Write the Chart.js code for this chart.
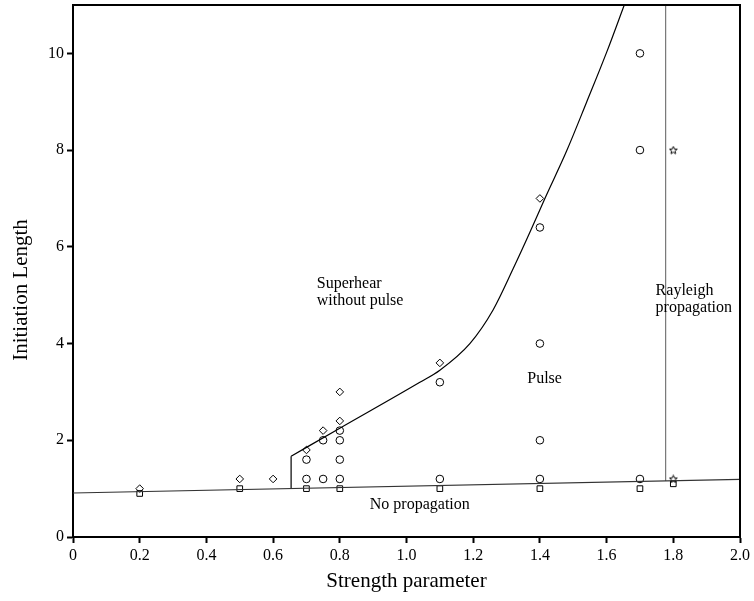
<!DOCTYPE html>
<html>
<head>
<meta charset="utf-8">
<script src="https://cdn.jsdelivr.net/npm/chart.js@4.4.1/dist/chart.umd.min.js"></script>
<style>
html,body{margin:0;padding:0;background:#fff;}
#wrap{width:754px;height:601px;}
</style>
</head>
<body>
<div id="wrap"><canvas id="c" width="754" height="601"></canvas></div>
<script>
// ---- data ----
const xTickValues = [0, 0.2, 0.4, 0.6, 0.8, 1.0, 1.2, 1.4, 1.6, 1.8, 2.0];
const xTickLabels = ['0', '0.2', '0.4', '0.6', '0.8', '1.0', '1.2', '1.4', '1.6', '1.8', '2.0'];
const yTickValues = [0, 2, 4, 6, 8, 10];
const yTickLabels = ['0', '2', '4', '6', '8', '10'];
const xTitle = 'Strength parameter';
const yTitle = 'Initiation Length';

// No propagation (squares)
const noPropX = [0.2, 0.5, 0.7, 0.8, 1.1, 1.4, 1.7, 1.8];
const noPropY = [0.9, 1.0, 1.0, 1.0, 1.0, 1.0, 1.0, 1.1];
// Superheat without pulse (diamonds)
const superX = [0.2, 0.5, 0.6, 0.7, 0.75, 0.8, 0.8, 1.1, 1.4];
const superY = [1.0, 1.2, 1.2, 1.8, 2.2, 2.4, 3.0, 3.6, 7.0];
// Pulse (circles)
const pulseX = [0.7, 0.7, 0.75, 0.75, 0.8, 0.8, 0.8, 0.8, 1.1, 1.1, 1.4, 1.4, 1.4, 1.4, 1.7, 1.7, 1.7];
const pulseY = [1.2, 1.6, 1.2, 2.0, 1.2, 1.6, 2.0, 2.2, 1.2, 3.2, 1.2, 2.0, 4.0, 6.4, 1.2, 8.0, 10.0];
// Rayleigh propagation (stars)
const rayX = [1.8, 1.8];
const rayY = [8.0, 1.2];

// Boundary lines
const baseLineX = [0, 2.0];
const baseLineY = [0.91, 1.19];
const stepX = [0.654, 0.654];
const stepY = [1.0, 1.67];
const curveX = [0.654, 0.8, 1.04, 1.1, 1.19, 1.26, 1.32, 1.37, 1.415, 1.48, 1.54, 1.60, 1.653];
const curveY = [1.67, 2.25, 3.2, 3.45, 4.0, 4.7, 5.55, 6.3, 7.0, 7.98, 8.99, 10.02, 11.0];
const rayLineX = [1.777, 1.777];
const rayLineY = [1.16, 11.0];

// Region labels (data coordinates of left / baseline)
const labelTexts = [['Superhear', 'without pulse'], ['Pulse'], ['Rayleigh', 'propagation'], ['No propagation']];
const labelX = [0.731, 1.362, 1.747, 0.89];
const labelY = [5.15, 3.19, 5.0, 0.58];

// ---- helpers ----
const pts = (xs, ys) => xs.map((x, i) => ({x: x, y: ys[i]}));

function starImage() {
  const c = document.createElement('canvas');
  c.width = 9; c.height = 9;
  const g = c.getContext('2d');
  g.beginPath();
  for (let i = 0; i < 10; i++) {
    const r = i % 2 === 0 ? 4 : 1.8;
    const a = -Math.PI / 2 + i * Math.PI / 5;
    const px = 4.5 + r * Math.cos(a), py = 4.8 + r * Math.sin(a);
    if (i === 0) g.moveTo(px, py); else g.lineTo(px, py);
  }
  g.closePath();
  g.strokeStyle = '#000';
  g.lineWidth = 1;
  g.stroke();
  return c;
}

const FONT = '"Liberation Serif", "Times New Roman", serif';

const framePlugin = {
  id: 'frame',
  afterDraw(chart) {
    const {ctx, chartArea: a} = chart;
    ctx.save();
    ctx.strokeStyle = '#000';
    ctx.lineWidth = 2;
    ctx.beginPath();
    ctx.moveTo(a.left, a.top);
    ctx.lineTo(a.right, a.top);
    ctx.lineTo(a.right, a.bottom);
    ctx.stroke();
    // y axis title (placed slightly below axis centre, as in the original)
    ctx.fillStyle = '#000';
    ctx.font = '21px ' + FONT;
    ctx.textAlign = 'center';
    ctx.textBaseline = 'middle';
    ctx.translate(21, 290);
    ctx.rotate(-Math.PI / 2);
    ctx.fillText(yTitle, 0, 0);
    ctx.restore();
  }
};

const labelPlugin = {
  id: 'regionLabels',
  afterDatasetsDraw(chart) {
    const {ctx, scales} = chart;
    ctx.save();
    ctx.fillStyle = '#000';
    ctx.font = '16px ' + FONT;
    ctx.textAlign = 'left';
    ctx.textBaseline = 'alphabetic';
    labelTexts.forEach((lines, i) => {
      const px = scales.x.getPixelForValue(labelX[i]);
      const py = scales.y.getPixelForValue(labelY[i]);
      lines.forEach((t, j) => ctx.fillText(t, px, py + j * 17));
    });
    ctx.restore();
  }
};

const lineDs = (xs, ys, color, smooth) => ({
  data: pts(xs, ys), showLine: true, borderColor: color, borderWidth: 1.2,
  pointRadius: 0, fill: false,
  tension: smooth ? 0.4 : 0,
  cubicInterpolationMode: smooth ? 'monotone' : 'default'
});
const markDs = (xs, ys, style, r) => ({
  data: pts(xs, ys), showLine: false, pointStyle: style, pointRadius: r,
  pointBackgroundColor: 'rgba(0,0,0,0)', pointBorderColor: '#000', pointBorderWidth: 1
});

new Chart(document.getElementById('c'), {
  type: 'scatter',
  data: {
    datasets: [
      lineDs(baseLineX, baseLineY, '#333', false),
      lineDs(stepX, stepY, '#000', false),
      lineDs(curveX, curveY, '#000', true),
      lineDs(rayLineX, rayLineY, '#777', false),
      markDs(noPropX, noPropY, 'rect', 4),
      markDs(superX, superY, 'rectRot', 3.8),
      markDs(pulseX, pulseY, 'circle', 3.8),
      markDs(rayX, rayY, starImage(), 4)
    ]
  },
  options: {
    responsive: false,
    animation: false,
    events: [],
    layout: {padding: {top: 3, right: 14, left: 0, bottom: 0}},
    plugins: {legend: {display: false}, tooltip: {enabled: false}},
    scales: {
      x: {
        type: 'linear', min: 0, max: 2.0,
        afterFit(s) { s.height = 64; },
        afterBuildTicks(s) { s.ticks = xTickValues.map(v => ({value: v})); },
        ticks: {
          color: '#000', font: {family: FONT, size: 16}, padding: 3, maxRotation: 0,
          callback: (v) => { const i = xTickValues.findIndex(t => Math.abs(t - v) < 1e-9); return i >= 0 ? xTickLabels[i] : ''; }
        },
        grid: {drawOnChartArea: false, drawTicks: true, tickLength: 6, tickColor: '#000', tickWidth: 2},
        border: {display: true, color: '#000', width: 2},
        title: {display: true, text: xTitle, color: '#000', font: {family: FONT, size: 21}, padding: {top: 7, bottom: 7}}
      },
      y: {
        type: 'linear', min: 0, max: 11,
        afterFit(s) { s.width = 73; s.paddingTop = 0; s.paddingBottom = 0; },
        afterBuildTicks(s) { s.ticks = yTickValues.map(v => ({value: v})); },
        ticks: {
          color: '#000', font: {family: FONT, size: 16}, padding: 3,
          callback: (v) => { const i = yTickValues.indexOf(v); return i >= 0 ? yTickLabels[i] : ''; }
        },
        grid: {drawOnChartArea: false, drawTicks: true, tickLength: 6, tickColor: '#000', tickWidth: 2},
        border: {display: true, color: '#000', width: 2},
        title: {display: false}
      }
    }
  },
  plugins: [framePlugin, labelPlugin]
});
</script>
</body>
</html>
